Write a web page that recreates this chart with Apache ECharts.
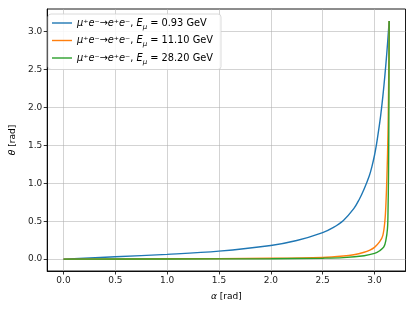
<!DOCTYPE html>
<html>
<head>
<meta charset="utf-8">
<script src="https://cdn.jsdelivr.net/npm/echarts@6/dist/echarts.min.js"></script>
<style>html,body{margin:0;padding:0;background:#fff;}#c{width:415px;height:311px;}</style>
</head>
<body>
<div id="c"></div>
<script>
// Tick labels
const xTicks = [0.0, 0.5, 1.0, 1.5, 2.0, 2.5, 3.0];
const yTicks = [0.0, 0.5, 1.0, 1.5, 2.0, 2.5, 3.0];
// Series names (energies)
const energies = ['0.93', '11.10', '28.20'];
// Blue: E = 0.93 GeV
const alphaBlue = [0, 0.5, 1.0, 1.5, 2.0, 2.25, 2.5, 2.6, 2.7, 2.8, 2.85, 2.9, 2.95, 2.975, 3.0, 3.02, 3.04, 3.06, 3.08, 3.1, 3.12, 3.1416];
const thetaBlue = [0, 0.03, 0.062, 0.105, 0.18, 0.245, 0.35, 0.415, 0.51, 0.665, 0.78, 0.925, 1.1, 1.22, 1.37, 1.52, 1.7, 1.9, 2.14, 2.42, 2.74, 3.1416];
// Orange: E = 11.10 GeV
const alphaOrange = [0, 1.0, 2.0, 2.5, 2.7, 2.8, 2.9, 2.95, 3.0, 3.05, 3.08, 3.1, 3.11, 3.12, 3.13, 3.135, 3.14, 3.1416];
const thetaOrange = [0, 0.004, 0.011, 0.022, 0.04, 0.058, 0.09, 0.115, 0.155, 0.23, 0.31, 0.5, 0.72, 1.1, 1.65, 2.15, 2.8, 3.1416];
// Green: E = 28.20 GeV
const alphaGreen = [0, 1.0, 2.0, 2.5, 2.7, 2.9, 3.0, 3.05, 3.09, 3.11, 3.125, 3.13, 3.135, 3.138, 3.14, 3.1416];
const thetaGreen = [0, 0.002, 0.005, 0.012, 0.02, 0.045, 0.075, 0.11, 0.16, 0.25, 0.4, 0.6, 1.1, 1.7, 2.5, 3.1416];

const colors = ['#1f77b4', '#ff7f0e', '#2ca02c'];
const zip = (a, b) => a.map((v, i) => [v, b[i]]);
const seriesData = [zip(alphaBlue, thetaBlue), zip(alphaOrange, thetaOrange), zip(alphaGreen, thetaGreen)];
const names = energies.map(e => 'μ⁺e⁻→e⁺e⁻, E_μ = ' + e + ' GeV');

const FONT = 'DejaVu Sans';
const chart = echarts.init(document.getElementById('c'), null, {renderer: 'canvas'});
chart.setOption({
  animation: false,
  backgroundColor: '#fff',
  grid: {left: 44, right: 9.5, top: 9, bottom: 40, show: true, borderColor: '#000', borderWidth: 0.9, backgroundColor: 'transparent'},
  legend: {
    orient: 'vertical', left: 48, top: 14,
    backgroundColor: 'rgba(255,255,255,0.85)', borderColor: '#d0d0d0', borderWidth: 0.8, borderRadius: 3,
    padding: [4, 8, 4, 4], itemGap: 5, itemWidth: 20, itemHeight: 12,
    icon: 'path://M0,5.3 L20,5.3 L20,6.7 L0,6.7 Z',
    data: names,
    formatter: function (n) {
      const e = n.split('= ')[1];
      return '{i|μ}⁺{i|e}⁻→{i|e}⁺{i|e}⁻, {i|E}{sub|μ} = ' + e;
    },
    textStyle: {
      fontFamily: FONT, fontSize: 9.8, color: '#000',
      rich: {
        i: {fontFamily: FONT, fontStyle: 'italic', fontSize: 9.8},
        sub: {fontFamily: FONT, fontStyle: 'italic', fontSize: 7, verticalAlign: 'bottom', lineHeight: 15}
      }
    }
  },
  xAxis: {
    type: 'value', min: -0.157, max: 3.299,
    name: '{i|α} [rad]', nameLocation: 'middle', nameGap: 21,
    nameTextStyle: {fontFamily: FONT, fontSize: 9, color: '#000', rich: {i: {fontFamily: FONT, fontStyle: 'italic', fontSize: 9}}},
    axisLine: {show: true, onZero: false, lineStyle: {color: '#000', width: 0.9}},
    axisTick: {show: true, inside: false, length: 3.5, customValues: xTicks, lineStyle: {color: '#000', width: 0.8}},
    axisLabel: {customValues: xTicks, margin: 5, fontFamily: FONT, fontSize: 9, color: '#222', formatter: v => v.toFixed(1)},
    splitLine: {show: true, customValues: xTicks, lineStyle: {color: '#b0b0b0', width: 0.8, opacity: 0.7}}
  },
  yAxis: {
    type: 'value', min: -0.157, max: 3.299,
    name: '{i|θ} [rad]', nameLocation: 'middle', nameGap: 25, nameRotate: 90,
    nameTextStyle: {fontFamily: FONT, fontSize: 9, color: '#000', rich: {i: {fontFamily: FONT, fontStyle: 'italic', fontSize: 9}}},
    axisLine: {show: true, onZero: false, lineStyle: {color: '#000', width: 0.9}},
    axisTick: {show: true, inside: false, length: 3.5, customValues: yTicks, lineStyle: {color: '#000', width: 0.8}},
    axisLabel: {customValues: yTicks, margin: 5, fontFamily: FONT, fontSize: 9, color: '#222', formatter: v => v.toFixed(1)},
    splitLine: {show: true, customValues: yTicks, lineStyle: {color: '#b0b0b0', width: 0.8, opacity: 0.7}}
  },
  series: seriesData.map((d, i) => ({
    name: names[i], type: 'line', data: d, showSymbol: false, symbol: 'none', smooth: 0.35,
    lineStyle: {color: colors[i], width: 1.4}, itemStyle: {color: colors[i]}, z: 2 + i
  }))
});
</script>
</body>
</html>
